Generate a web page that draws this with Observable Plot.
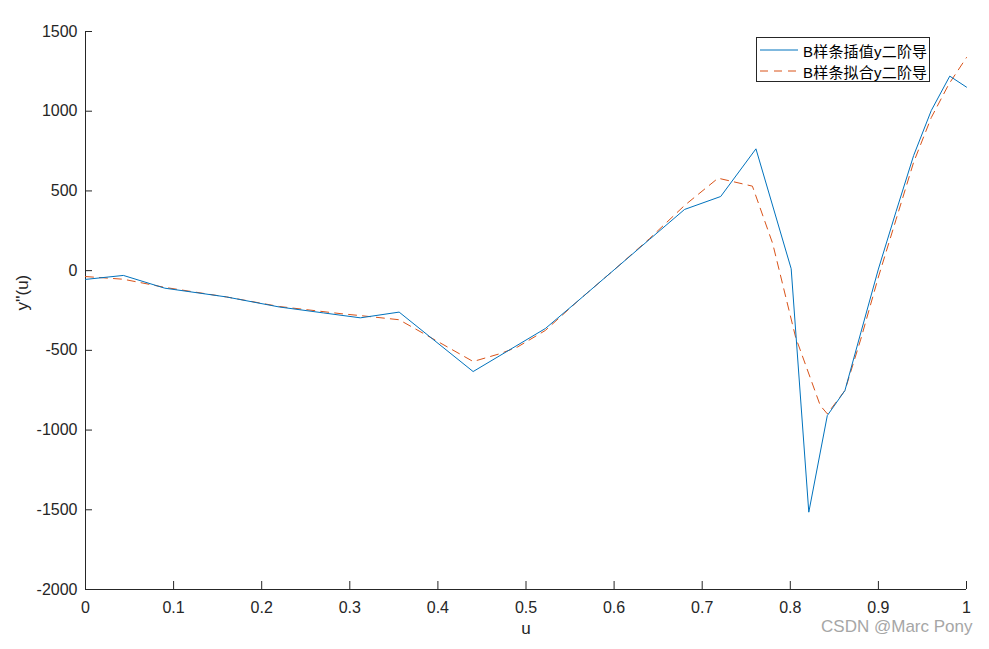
<!DOCTYPE html>
<html><head><meta charset="utf-8">
<script src="https://cdn.jsdelivr.net/npm/d3@7"></script>
<script src="https://cdn.jsdelivr.net/npm/@observablehq/plot@0.6"></script>
<style>
body{margin:0;background:#fff;}
#wrap{position:relative;width:989px;height:649px;overflow:hidden;}
#legend{position:absolute;left:756px;top:37px;width:174px;height:45px;border:1px solid #262626;background:#fff;box-sizing:border-box;font-family:"Liberation Sans","Noto Sans CJK SC",sans-serif;font-size:15px;letter-spacing:0.2px;color:#000;}
#legend .row{position:absolute;left:0;height:20px;display:flex;align-items:center;white-space:nowrap;}
#legend svg{display:block;margin-left:3px;margin-right:5px;}
</style></head>
<body><div id="wrap"></div>
<script>
// blue: B-spline interpolation second derivative
const uInterp = [0, 0.043, 0.09, 0.16, 0.22, 0.27, 0.312, 0.356, 0.44, 0.522, 0.56, 0.6, 0.64, 0.68, 0.721, 0.761, 0.801, 0.821, 0.842, 0.862, 0.88, 0.9, 0.92, 0.94, 0.96, 0.981, 1.0];
const yInterp = [-55, -30, -110, -165, -228, -265, -296, -260, -633, -363, -185, 5, 195, 384, 465, 764, 12, -1515, -909, -752, -390, 10, 370, 722, 1004, 1220, 1151];
// red: B-spline fitting second derivative
const uFit = [0, 0.043, 0.09, 0.16, 0.22, 0.29, 0.312, 0.356, 0.40, 0.44, 0.471, 0.49, 0.522, 0.56, 0.6, 0.64, 0.68, 0.718, 0.757, 0.78, 0.806, 0.834, 0.842, 0.862, 0.88, 0.9, 0.92, 0.94, 0.96, 0.98, 1.0];
const yFit = [-37, -54, -105, -165, -225, -270, -282, -308, -445, -570, -520, -480, -375, -185, 5, 200, 409, 580, 530, 170, -417, -846, -898, -752, -430, -40, 320, 680, 960, 1170, 1337];

const xTicks = [0, 0.1, 0.2, 0.3, 0.4, 0.5, 0.6, 0.7, 0.8, 0.9, 1];
const yTicks = [-2000, -1500, -1000, -500, 0, 500, 1000, 1500];
const seriesNames = ["B样条插值y二阶导", "B样条拟合y二阶导"];
const seriesColors = ["#0072BD", "#D95319"];
const seriesDash = [null, "8,6"];

const interp = uInterp.map((u, i) => ({u, y: yInterp[i]}));
const fit = uFit.map((u, i) => ({u, y: yFit[i]}));

const chart = Plot.plot({
  width: 989, height: 649,
  marginLeft: 85, marginRight: 23, marginTop: 31, marginBottom: 60,
  style: {fontFamily: "Liberation Sans, Arial, sans-serif", fontSize: "16px", color: "#262626", background: "#fff"},
  x: {domain: [0, 1]},
  y: {domain: [-2000, 1500]},
  marks: [
    Plot.axisX({ticks: xTicks, tickFormat: d => String(d), tickSize: -8, tickPadding: 20, fontSize: 16, label: null}),
    Plot.axisY({ticks: yTicks, tickFormat: d => String(d), tickSize: -7, tickPadding: 15, fontSize: 16, label: null}),
    Plot.ruleX([0], {stroke: "#262626"}),
    Plot.ruleY([-2000], {stroke: "#262626"}),
    Plot.line(fit, {x: "u", y: "y", stroke: seriesColors[1], strokeWidth: 1, strokeDasharray: seriesDash[1]}),
    Plot.line(interp, {x: "u", y: "y", stroke: seriesColors[0], strokeWidth: 1}),
    Plot.text(["u"], {frameAnchor: "bottom", dy: 44, fontSize: 17, fill: "#262626"}),
    Plot.text(["y''(u)"], {frameAnchor: "left", dx: -63, rotate: -90, fontSize: 17, fill: "#262626"}),
    Plot.text(["CSDN @Marc Pony"], {frameAnchor: "bottom-right", textAnchor: "end", dx: 6, dy: 42, fill: "#a6a6a6", fontSize: 17})
  ]
});

const wrap = document.getElementById("wrap");
wrap.appendChild(chart);

const legend = document.createElement("div");
legend.id = "legend";
seriesNames.forEach((name, i) => {
  const row = document.createElement("div");
  row.className = "row";
  row.style.top = (i === 0 ? 2 : 23) + "px";
  const dash = seriesDash[i] ? ` stroke-dasharray="${seriesDash[i]}"` : "";
  row.innerHTML = `<svg width="38" height="10"><line x1="0" y1="5" x2="38" y2="5" stroke="${seriesColors[i]}" stroke-width="1"${dash}/></svg><span>${name}</span>`;
  legend.appendChild(row);
});
wrap.appendChild(legend);
</script>
</body></html>
